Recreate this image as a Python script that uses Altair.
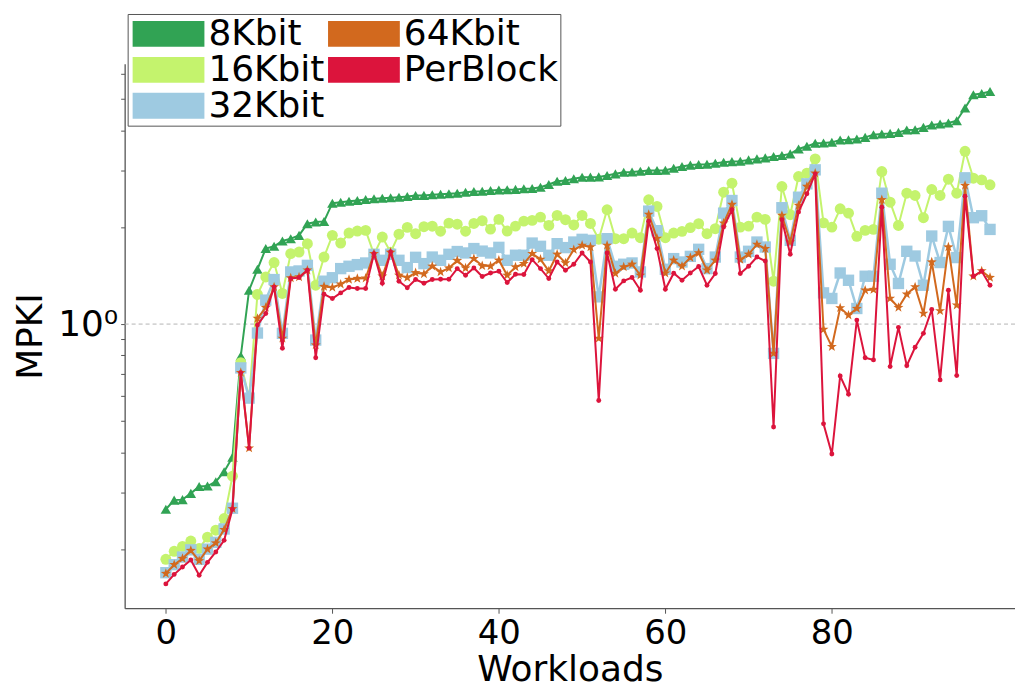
import altair as alt
import pandas as pd

series_names = ["8Kbit", "16Kbit", "32Kbit", "64Kbit", "PerBlock"]
colors = ["#31a354", "#c4f36d", "#9ecae1", "#d2691e", "#dc143c"]

workloads = list(range(100))

kbit8 = [0.266, 0.284, 0.285, 0.298, 0.313, 0.314, 0.324, 0.348, 0.386, 0.796,
         1.274, 1.48, 1.716, 1.744, 1.811, 1.842, 1.886, 2.05, 2.074, 2.084,
         2.374, 2.391, 2.408, 2.42, 2.438, 2.45, 2.46, 2.468, 2.478, 2.491,
         2.508, 2.51, 2.52, 2.53, 2.539, 2.55, 2.568, 2.581, 2.586, 2.6,
         2.609, 2.615, 2.62, 2.631, 2.635, 2.661, 2.713, 2.778, 2.792, 2.826,
         2.858, 2.86, 2.865, 2.893, 2.928, 2.961, 2.965, 2.982, 2.997, 3.0,
         3.003, 3.047, 3.084, 3.117, 3.129, 3.135, 3.158, 3.181, 3.196, 3.204,
         3.236, 3.259, 3.282, 3.313, 3.337, 3.378, 3.499, 3.565, 3.642, 3.652,
         3.668, 3.731, 3.739, 3.758, 3.801, 3.875, 3.894, 3.911, 3.939, 4.007,
         4.016, 4.083, 4.153, 4.183, 4.213, 4.282, 4.688, 5.154, 5.202, 5.277]

kbit16 = [0.186, 0.197, 0.204, 0.212, 0.201, 0.218, 0.229, 0.249, 0.337, 0.759,
          0.59, 1.236, 1.401, 1.553, 1.245, 1.655, 1.674, 1.777, 1.32, 1.615,
          1.886, 1.785, 1.917, 1.945, 1.954, 1.647, 1.863, 1.671, 1.902, 1.997,
          1.909, 2.007, 2.014, 1.943, 2.059, 2.043, 1.943, 2.054, 2.095, 1.972,
          2.114, 1.945, 2.015, 2.088, 2.099, 2.149, 2.025, 2.175, 2.11, 2.032,
          2.175, 2.054, 1.835, 2.265, 1.842, 1.842, 1.917, 1.855, 2.433, 2.319,
          1.855, 1.917, 1.941, 1.993, 2.05, 1.909, 1.978, 2.568, 2.738, 2.001,
          2.015, 2.149, 2.114, 1.359, 2.675, 2.186, 2.872, 2.941, 3.259, 2.062,
          2.001, 2.281, 2.211, 1.873, 1.954, 1.968, 2.977, 2.391, 2.025, 2.55,
          2.508, 2.14, 2.618, 2.508, 2.818, 2.55, 3.44, 2.838, 2.805, 2.707]

kbit32 = [0.169, 0.179, 0.189, 0.199, 0.186, 0.2, 0.21, 0.231, 0.268, 0.731,
          0.589, 0.938, 1.187, 1.375, 0.936, 1.452, 1.462, 1.522, 0.892, 1.359,
          1.393, 1.487, 1.512, 1.53, 1.548, 1.647, 1.578, 1.647, 1.578, 1.498,
          1.612, 1.541, 1.615, 1.578, 1.647, 1.68, 1.663, 1.716, 1.685, 1.663,
          1.731, 1.578, 1.636, 1.636, 1.785, 1.744, 1.636, 1.777, 1.728, 1.798,
          1.833, 1.82, 1.215, 1.842, 1.512, 1.534, 1.548, 1.452, 2.243, 1.95,
          1.48, 1.597, 1.559, 1.623, 1.707, 1.487, 1.615, 2.211, 2.42, 1.615,
          1.683, 1.798, 1.735, 0.811, 2.298, 1.82, 2.478, 2.726, 3.013, 1.25,
          1.201, 1.441, 1.368, 1.118, 1.408, 1.408, 2.55, 1.534, 1.337, 1.683,
          1.627, 1.32, 1.877, 1.553, 2.011, 1.609, 2.846, 2.14, 2.17, 1.968]

kbit64 = [0.168, 0.179, 0.187, 0.198, 0.184, 0.2, 0.209, 0.23, 0.267, 0.707,
          0.412, 1.041, 1.126, 1.305, 0.903, 1.391, 1.401, 1.47, 0.861, 1.308,
          1.299, 1.33, 1.375, 1.385, 1.388, 1.655, 1.408, 1.671, 1.418, 1.395,
          1.443, 1.431, 1.512, 1.452, 1.493, 1.575, 1.493, 1.597, 1.517, 1.514,
          1.578, 1.418, 1.504, 1.541, 1.655, 1.589, 1.462, 1.647, 1.548, 1.703,
          1.756, 1.735, 0.903, 1.756, 1.436, 1.504, 1.534, 1.418, 2.191, 1.846,
          1.439, 1.578, 1.512, 1.609, 1.663, 1.47, 1.578, 2.059, 2.352, 1.586,
          1.647, 1.768, 1.716, 0.811, 2.175, 1.798, 2.336, 2.675, 2.941, 0.963,
          0.851, 1.123, 1.066, 1.118, 1.274, 1.28, 2.433, 1.201, 1.126, 1.238,
          1.305, 1.079, 1.559, 1.099, 1.735, 1.145, 2.694, 1.408, 1.462, 1.395]

perblock = [0.156, 0.167, 0.176, 0.185, 0.166, 0.182, 0.196, 0.213, 0.266, 0.707,
            0.412, 0.993, 1.079, 1.305, 0.841, 1.385, 1.395, 1.47, 0.786, 1.238,
            1.201, 1.25, 1.299, 1.29, 1.29, 1.655, 1.339, 1.674, 1.359, 1.297,
            1.375, 1.339, 1.375, 1.378, 1.378, 1.487, 1.418, 1.494, 1.405, 1.441,
            1.459, 1.346, 1.428, 1.425, 1.586, 1.487, 1.385, 1.559, 1.47, 1.534,
            1.663, 1.559, 0.579, 1.663, 1.283, 1.362, 1.395, 1.274, 2.088, 1.716,
            1.283, 1.439, 1.368, 1.441, 1.509, 1.32, 1.436, 2.001, 2.265, 1.436,
            1.512, 1.615, 1.57, 0.479, 2.11, 1.647, 2.227, 2.539, 2.928, 0.49,
            0.395, 0.69, 0.606, 1.029, 0.786, 0.774, 2.308, 0.738, 0.977, 0.743,
            0.847, 0.936, 1.11, 0.671, 1.274, 0.692, 2.496, 1.408, 1.459, 1.32]

x_ticks = [0, 20, 40, 60, 80]
y_ticks = [0.2, 0.3, 0.4, 0.5, 0.6, 0.7, 0.8, 0.9, 1, 2, 3, 4, 5, 6]

all_values = [kbit8, kbit16, kbit32, kbit64, perblock]
rows = []
for name, vals in zip(series_names, all_values):
    for w, v in zip(workloads, vals):
        rows.append({"workload": w, "mpki": v, "series": name})
df = pd.DataFrame(rows)

FONT = "DejaVu Sans"
STAR = ("M0,-1L0.235,-0.324L0.951,-0.309L0.38,0.124L0.588,0.809L0,0.4"
        "L-0.588,0.809L-0.38,0.124L-0.951,-0.309L-0.235,-0.324Z")
# wide legend patch
RECT = "M-1.25,-1.08L4.75,-1.08L4.75,1.08L-1.25,1.08Z"

cmap = dict(zip(series_names, colors))
color_scale = alt.Scale(domain=series_names, range=colors)

x_scale = alt.Scale(domain=[-4.95, 102.0], nice=False, zero=False)
y_scale = alt.Scale(type="log", domain=[0.1311, 6.43], nice=False)

x_axis = alt.Axis(values=x_ticks, title="Workloads", tickSize=5, labelPadding=3,
                  titlePadding=2, labelFontSize=34, titleFontSize=36, labelFlush=False)
y_axis = alt.Axis(values=y_ticks, title="MPKI", tickSize=4, labelPadding=3,
                  labelExpr="datum.value == 1 ? '10⁰' : ''", titlePadding=8,
                  labelFontSize=36, titleFontSize=36)

X = alt.X("workload:Q", scale=x_scale, axis=x_axis)
Y = alt.Y("mpki:Q", scale=y_scale, axis=y_axis)

grid = alt.Chart(pd.DataFrame({"mpki": [1]})).mark_rule(
    color="#b5b5b5", strokeDash=[4, 3], strokeWidth=1
).encode(y=alt.Y("mpki:Q", scale=y_scale, axis=y_axis))

markers = {
    "8Kbit": dict(shape="triangle-up", size=110),
    "16Kbit": dict(shape="circle", size=120),
    "32Kbit": dict(shape="square", size=130),
    "64Kbit": dict(shape=STAR, size=110),
    "PerBlock": dict(shape="circle", size=24),
}
widths = {"8Kbit": 2, "16Kbit": 2, "32Kbit": 2.5, "64Kbit": 2, "PerBlock": 2}

legend = alt.Legend(
    title=None, orient="none", legendX=3, legendY=-50, columns=2,
    symbolType=RECT, symbolSize=576, symbolStrokeWidth=0, symbolOpacity=1,
    labelFont=FONT, labelFontSize=36, labelColor="black", labelOffset=43,
    rowPadding=0, columnPadding=0, padding=2, fillColor="white",
    strokeColor="#555555", cornerRadius=0, labelLimit=400,
)

layers = [grid]
for name in series_names:
    sub = alt.Chart(df).transform_filter(alt.datum.series == name)
    line = sub.mark_line(strokeWidth=widths[name], color=cmap[name]).encode(x=X, y=Y)
    m = markers[name]
    if name == "32Kbit":
        pts = sub.mark_point(filled=True, opacity=1, shape=m["shape"], size=m["size"]).encode(
            x=X, y=Y,
            color=alt.Color("series:N", scale=color_scale, legend=legend),
        )
    else:
        pts = sub.mark_point(filled=True, opacity=1, shape=m["shape"], size=m["size"],
                             color=cmap[name]).encode(x=X, y=Y)
    layers += [line, pts]

chart = alt.layer(*layers).properties(
    width=893, height=546,
    padding={"left": 117, "top": 55, "right": 0, "bottom": 77},
    autosize=alt.AutoSizeParams(type="none"),
).configure_view(stroke=None).configure_axis(
    grid=False, domainColor="#555555", tickColor="#555555", domainWidth=1.3,
    labelFont=FONT, titleFont=FONT, labelColor="black", titleColor="black",
    titleFontWeight="normal",
)

chart.save("out.html", embed_options={"renderer": "svg", "actions": False})
